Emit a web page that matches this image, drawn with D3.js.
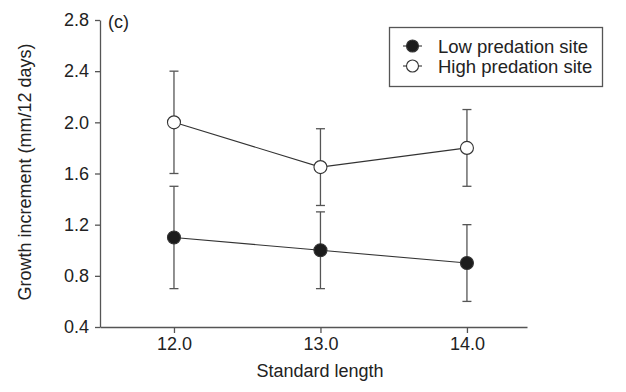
<!DOCTYPE html>
<html>
<head>
<meta charset="utf-8">
<script src="https://cdn.jsdelivr.net/npm/d3@7"></script>
<style>
  body { margin: 0; background: #fff; }
  text { font-family: "Liberation Sans", Arial, sans-serif; fill: #222; }
</style>
</head>
<body>
<script>
(function(){

    //chart data
    var lengths = [12.0, 13.0, 14.0];
    var lowMean = [1.1, 1.0, 0.9];
    var lowLower = [0.7, 0.7, 0.6];
    var lowUpper = [1.5, 1.3, 1.2];
    var highMean = [2.0, 1.65, 1.8];
    var highLower = [1.6, 1.35, 1.5];
    var highUpper = [2.4, 1.95, 2.1];
    var yTicks = [0.4, 0.8, 1.2, 1.6, 2.0, 2.4, 2.8];
    var seriesNames = ["Low predation site", "High predation site"];

    var width = 626, height = 392;
    var margin = {left: 100, top: 20, right: 99, bottom: 65};

    var svg = d3.select("body")
        .append("svg")
        .attr("width", width)
        .attr("height", height);

    var x = d3.scaleLinear()
        .domain([11.495, 14.41])
        .range([margin.left, width - margin.right]);

    var y = d3.scaleLinear()
        .domain([0.4, 2.8])
        .range([height - margin.bottom, margin.top]);

    var axisColor = "#555";

    //y axis
    var yAxis = svg.append("g")
        .attr("transform", "translate(" + margin.left + ",0)")
        .call(d3.axisLeft(y).tickValues(yTicks).tickFormat(d3.format(".1f")).tickSize(5).tickPadding(6).tickSizeOuter(0));

    //x axis
    var xAxis = svg.append("g")
        .attr("transform", "translate(0," + (height - margin.bottom) + ")")
        .call(d3.axisBottom(x).tickValues(lengths).tickFormat(d3.format(".1f")).tickSize(6).tickPadding(4).tickSizeOuter(0));

    [yAxis, xAxis].forEach(function(ax){
        ax.selectAll("path, line").attr("stroke", axisColor).attr("stroke-width", 1.3);
        ax.selectAll("text").style("font-size", "18px").attr("fill", "#222");
    });

    //axis titles
    svg.append("text")
        .attr("x", 320)
        .attr("y", 377)
        .attr("text-anchor", "middle")
        .style("font-size", "18px")
        .text("Standard length");

    svg.append("text")
        .attr("transform", "translate(31," + 172 + ") rotate(-90)")
        .attr("text-anchor", "middle")
        .style("font-size", "18px")
        .text("Growth increment (mm/12 days)");

    svg.append("text")
        .attr("x", 108)
        .attr("y", 28)
        .style("font-size", "18px")
        .text("(c)");

    //series
    var series = [
        {name: seriesNames[0], mean: lowMean, lo: lowLower, hi: lowUpper, fill: "#1c1c1c"},
        {name: seriesNames[1], mean: highMean, lo: highLower, hi: highUpper, fill: "#fff"}
    ];

    var line = d3.line()
        .x(function(d){ return x(d[0]); })
        .y(function(d){ return y(d[1]); });

    series.forEach(function(s){
        var pts = lengths.map(function(l, i){ return [l, s.mean[i], s.lo[i], s.hi[i]]; });

        var g = svg.append("g");

        //error bars
        g.selectAll(".bar").data(pts).enter()
            .append("line")
            .attr("x1", function(d){ return x(d[0]); })
            .attr("x2", function(d){ return x(d[0]); })
            .attr("y1", function(d){ return y(d[2]); })
            .attr("y2", function(d){ return y(d[3]); })
            .attr("stroke", axisColor).attr("stroke-width", 1.3);

        [2, 3].forEach(function(k){
            g.selectAll(".cap" + k).data(pts).enter()
                .append("line")
                .attr("x1", function(d){ return x(d[0]) - 4.5; })
                .attr("x2", function(d){ return x(d[0]) + 4.5; })
                .attr("y1", function(d){ return y(d[k]); })
                .attr("y2", function(d){ return y(d[k]); })
                .attr("stroke", axisColor).attr("stroke-width", 1.3);
        });

        g.append("path")
            .datum(pts)
            .attr("d", line)
            .attr("fill", "none")
            .attr("stroke", "#333")
            .attr("stroke-width", 1.1);

        g.selectAll("circle").data(pts).enter()
            .append("circle")
            .attr("cx", function(d){ return x(d[0]); })
            .attr("cy", function(d){ return y(d[1]); })
            .attr("r", 6.5)
            .attr("fill", s.fill)
            .attr("stroke", "#333")
            .attr("stroke-width", 1.1);
    });

    //legend
    var legend = svg.append("g");
    legend.append("rect")
        .attr("x", 389.5).attr("y", 27.5)
        .attr("width", 213).attr("height", 59)
        .attr("fill", "#fff")
        .attr("stroke", axisColor).attr("stroke-width", 1.3);

    series.forEach(function(s, i){
        var cy = 46 + i * 20;
        legend.append("line")
            .attr("x1", 403).attr("x2", 422)
            .attr("y1", cy).attr("y2", cy)
            .attr("stroke", "#333").attr("stroke-width", 1.1);
        legend.append("circle")
            .attr("cx", 412.5).attr("cy", cy).attr("r", 6)
            .attr("fill", s.fill)
            .attr("stroke", "#333").attr("stroke-width", 1.1);
        legend.append("text")
            .attr("x", 438).attr("y", cy + 6.5)
            .style("font-size", "18.5px")
            .text(s.name);
    });

})();
</script>
</body>
</html>
